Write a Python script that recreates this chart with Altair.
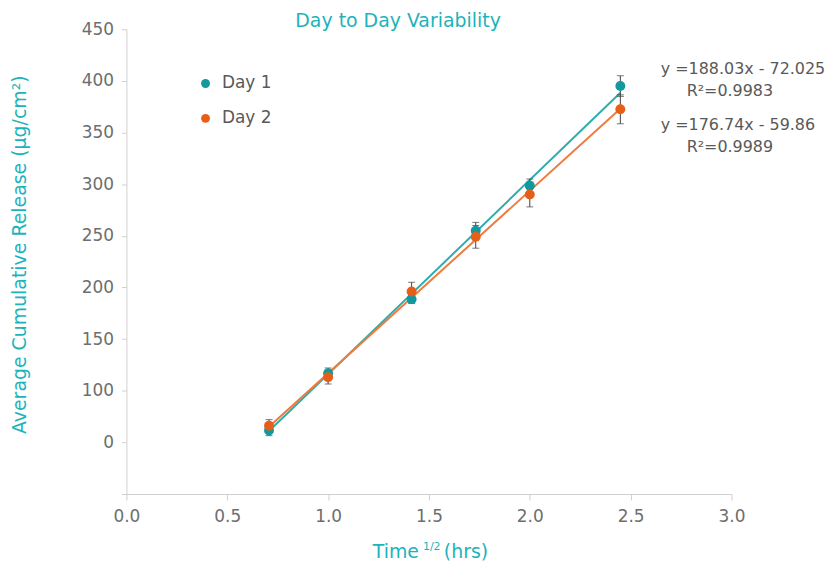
import altair as alt
import pandas as pd

# ---- data ----
time_sqrt = [0.707, 1.0, 1.414, 1.732, 2.0, 2.449]
series_names = ["Day 1", "Day 2"]
day1_mean = [61.5, 117.0, 188.5, 255.0, 298.5, 395.0]
day1_err = [5.0, 5.0, 4.0, 8.0, 6.5, 10.0]
day2_mean = [66.0, 113.0, 196.0, 249.0, 290.0, 372.5]
day2_err = [6.0, 6.5, 9.0, 11.0, 12.0, 14.0]
slopes = [188.03, 176.74]
intercepts = [-72.025, -59.86]
eq_labels = ["y =188.03x - 72.025", "R²=0.9983", "y =176.74x - 59.86", "R²=0.9989"]
y_ticks = [0, 50, 100, 150, 200, 250, 300, 350, 400, 450]
x_ticks = [0.0, 0.5, 1.0, 1.5, 2.0, 2.5, 3.0]
title_text = "Day to Day Variability"
y_title = "Average Cumulative Release (µg/cm²)"
x_title_parts = ["Time", "1/2", "(hrs)"]

point_colors = ["#11999E", "#E65E17"]
line_colors = ["#2EADAB", "#EF7A3E"]
CYAN = "#1DB3BA"
GRAY = "#6E6E6E"
FONT = "DejaVu Sans"

rows = []
for name, means, errs in zip(series_names, [day1_mean, day2_mean], [day1_err, day2_err]):
    for x, m, e in zip(time_sqrt, means, errs):
        rows.append(dict(series=name, x=x, y=m, lo=m - e, hi=m + e))
df = pd.DataFrame(rows)

line_rows = []
for name, s, b in zip(series_names, slopes, intercepts):
    for x in (min(time_sqrt), max(time_sqrt)):
        line_rows.append(dict(series=name, x=x, y=s * x + b))
df_line = pd.DataFrame(line_rows)

x_enc = alt.X(
    "x:Q",
    scale=alt.Scale(domain=[0, 3], nice=False),
    axis=alt.Axis(
        values=x_ticks, format=".1f", title=None, grid=False, labelFlush=False,
        labelFontSize=17, labelColor=GRAY, labelFont=FONT, labelPadding=9,
        domainColor="#D0D0D0", tickColor="#D0D0D0", tickSize=6,
    ),
)
y_enc = alt.Y(
    "y:Q",
    scale=alt.Scale(domain=[0, 450], nice=False),
    axis=alt.Axis(
        values=y_ticks, grid=False, title=y_title, labelFlush=False,
        labelExpr="datum.value == 50 ? '0' : (datum.value == 0 ? '' : datum.label)",
        labelFontSize=17, labelColor=GRAY, labelFont=FONT, labelPadding=8,
        domainColor="#D0D0D0", tickColor="#D0D0D0", tickSize=5,
        titleFontSize=19, titleColor=CYAN, titleFont=FONT, titleFontWeight="normal",
        titleAngle=270, titleX=-107, titleY=226, titleAlign="center", titleBaseline="middle",
    ),
)

lines = alt.Chart(df_line).mark_line(strokeWidth=2).encode(
    x=x_enc, y=y_enc,
    color=alt.Color("series:N", scale=alt.Scale(domain=series_names, range=line_colors), legend=None),
    detail="series:N",
)

err_rule = alt.Chart(df).mark_rule(color="#404040", strokeWidth=1).encode(
    x="x:Q", y="lo:Q", y2="hi:Q"
)
cap_hi = alt.Chart(df).mark_tick(color="#404040", orient="horizontal", size=7, thickness=1).encode(
    x="x:Q", y="hi:Q"
)
cap_lo = alt.Chart(df).mark_tick(color="#404040", orient="horizontal", size=7, thickness=1).encode(
    x="x:Q", y="lo:Q"
)

points = alt.Chart(df).mark_point(filled=True, opacity=1, size=100, shape="circle").encode(
    x="x:Q", y="y:Q",
    color=alt.Color(
        "series:N",
        scale=alt.Scale(domain=series_names, range=point_colors),
        legend=alt.Legend(
            title=None, orient="none", legendX=71, legendY=46, padding=0,
            labelFontSize=17, labelColor="#595959", labelFont=FONT,
            symbolType="circle", symbolSize=80, symbolStrokeWidth=0,
            rowPadding=17, labelOffset=8,
        ),
    ),
)


def text_layer(txt, x, y, size, color, align="left", baseline="middle"):
    return alt.Chart(pd.DataFrame({"t": [txt]})).mark_text(
        font=FONT, fontSize=size, color=color, align=align, baseline=baseline
    ).encode(text="t:N", x=alt.value(x), y=alt.value(y))


texts = [
    text_layer(title_text, 273, -8, 19, CYAN, align="center"),
    text_layer(eq_labels[0], 537, 40, 16, "#595959"),
    text_layer(eq_labels[1], 563, 62, 16, "#595959"),
    text_layer(eq_labels[2], 537, 96, 16, "#595959"),
    text_layer(eq_labels[3], 563, 118, 16, "#595959"),
    text_layer(x_title_parts[0], 294, 531, 19, CYAN, align="right", baseline="alphabetic"),
    text_layer(x_title_parts[1], 298, 523, 11, CYAN, align="left", baseline="alphabetic"),
    text_layer(x_title_parts[2], 319, 531, 19, CYAN, align="left", baseline="alphabetic"),
]

chart = alt.layer(lines, err_rule, cap_hi, cap_lo, points, *texts).resolve_scale(
    color="independent"
).properties(
    width=608, height=467,
    autosize=alt.AutoSizeParams(type="none"),
    padding={"left": 119, "top": 20, "right": 95, "bottom": 72},
).configure_view(stroke=None)

chart.save("out.html", embed_options={"renderer": "svg", "actions": False})
